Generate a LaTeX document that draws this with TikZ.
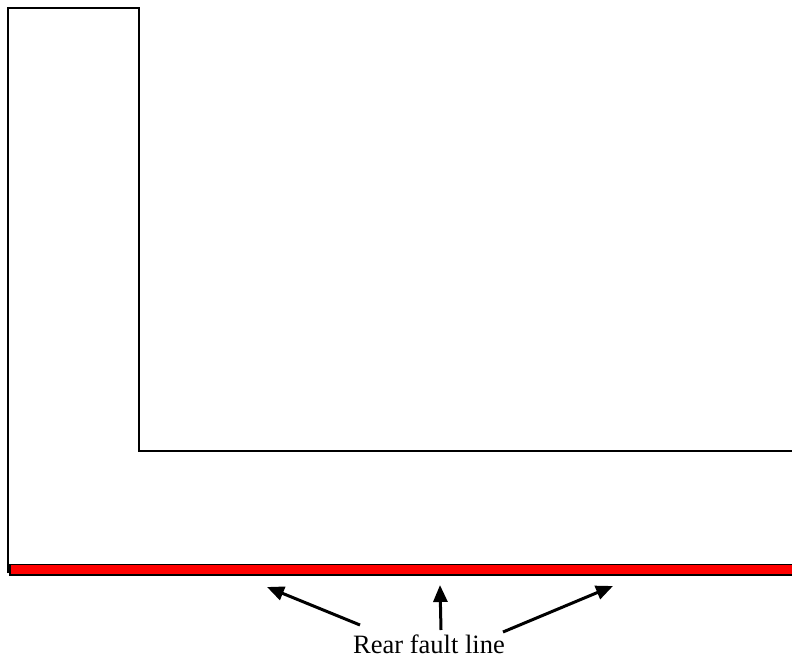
\documentclass[tikz,border=0pt]{standalone}
\usepackage{fontspec}
\setmainfont{Liberation Serif}
\usetikzlibrary{arrows.meta}
\begin{document}
\begin{tikzpicture}[x=1pt,y=-1pt,
  wall/.style={draw=black,line width=2.2pt},
  fault/.style={draw=black,fill=red,line width=1.3pt},
  pointer/.style={draw=black,line width=3pt,-{Triangle[length=17pt,width=14pt]}}]
\useasboundingbox (0,0) rectangle (792,658);
\draw[wall] (8,573) -- (8,8) -- (139,8) -- (139,451) -- (793,451);
\draw[fault] (10,564.5) rectangle (794,575);
\node[anchor=base,inner sep=0pt,font=\fontsize{26.5}{30}\selectfont] (lbl) at (429,653) {Rear fault line};
\coordinate (t1) at (360,625);
\coordinate (t2) at (441,630);
\coordinate (t3) at (503,632);
\coordinate (h1) at (267,587);
\coordinate (h2) at (440,585);
\coordinate (h3) at (613,586);
\draw[pointer] (t1) -- (h1);
\draw[pointer] (t2) -- (h2);
\draw[pointer] (t3) -- (h3);
\end{tikzpicture}
\end{document}
